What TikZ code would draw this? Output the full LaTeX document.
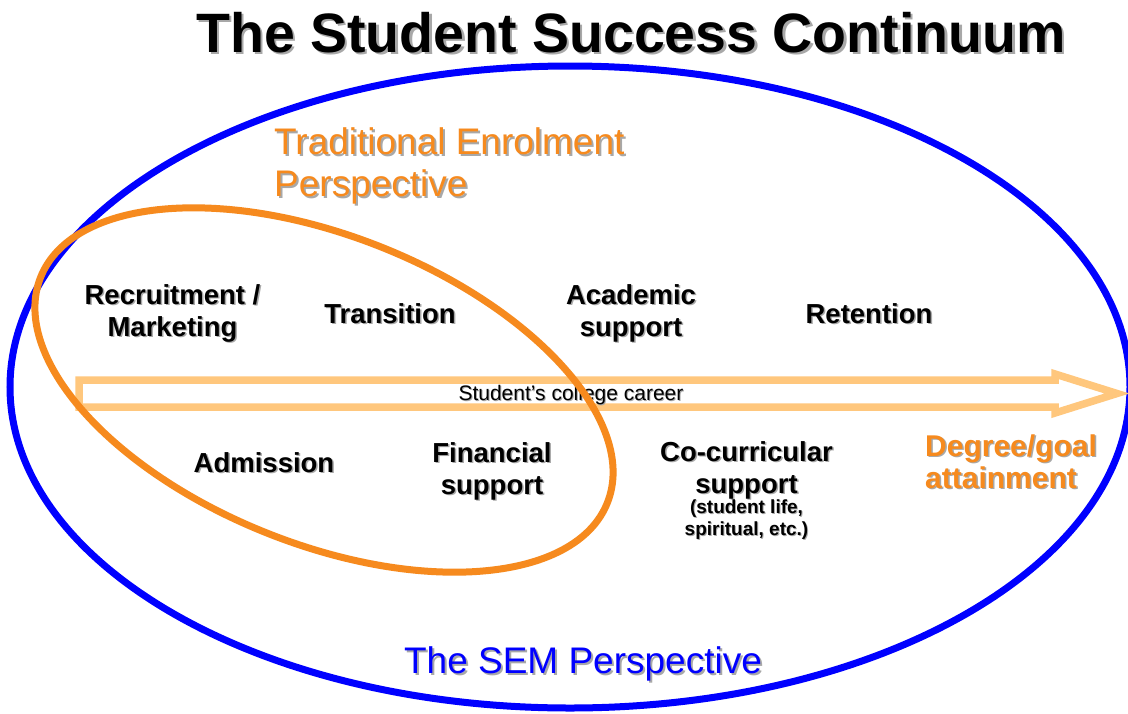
\documentclass[tikz,border=0pt]{standalone}
\usepackage{fontspec}
\setmainfont{Liberation Sans}
\definecolor{semblue}{HTML}{0000FF}
\definecolor{tradorange}{HTML}{F68A1E}
\definecolor{arrowc}{HTML}{FFC77D}
\definecolor{shgray}{HTML}{A8A8A8}
\newcommand\shd[2][1.5pt]{\leavevmode\rlap{\kern#1\raisebox{-#1}{\color{shgray}#2}}#2}
\newcommand\ctab[1]{\begin{tabular}{@{}c@{}}#1\end{tabular}}
\newcommand\ltab[1]{\begin{tabular}{@{}l@{}}#1\end{tabular}}
\tikzset{
  lbl/.style={inner sep=0pt, text=black, font=\bfseries\fontsize{27.5}{32}\selectfont},
  small/.style={inner sep=0pt, text=black, font=\bfseries\fontsize{19}{22}\selectfont},
  orangelbl/.style={inner sep=0pt, text=tradorange, font=\bfseries\fontsize{30}{32}\selectfont},
  persp/.style={inner sep=0pt, font=\fontsize{37}{42}\selectfont},
}
\begin{document}
\begin{tikzpicture}[x=1pt,y=-1pt]
\path[use as bounding box] (0,0) rectangle (1128,713);
\clip (0,0) rectangle (1128,713);
\fill[white] (0,0) rectangle (1128,713);
% blue SEM ellipse
\draw[semblue, line width=7pt] (570,387) ellipse [x radius=560, y radius=321];
% hollow arrow
\draw[arrowc, line width=7.5pt, line join=miter]
  (79,380) -- (1055,380) -- (1055,374) -- (1117,393.5) -- (1055,413) -- (1055,407) -- (79,407) -- cycle;
\node[inner sep=0pt, font=\fontsize{21}{24}\selectfont, anchor=base] (career) at (571,400) {\shd[1pt]{Student’s college career}};
% orange traditional ellipse
\draw[tradorange, line width=7pt, rotate around={-21.7:(324,390)}] (324,390) ellipse [x radius=305, y radius=154];
% title
\node[inner sep=0pt, font=\bfseries\fontsize{55.5}{60}\selectfont, anchor=base] (title) at (631,52) {\shd[2.5pt]{The Student Success Continuum}};
% perspectives
\node[persp, text=tradorange, anchor=west] (trad) at (274,167.6) {\shd[2pt]{\ltab{Traditional Enrolment\\Perspective}}};
\node[persp, text=semblue, anchor=base] (sem) at (583,673) {\shd[2pt]{The SEM Perspective}};
% labels
\node[lbl] (recruit) at (172.5,314.6) {\shd{\ctab{Recruitment /\\Marketing}}};
\node[lbl, anchor=base] (transition) at (390,323) {\shd{Transition}};
\node[lbl] (academic) at (631,314.6) {\shd{\ctab{Academic\\support}}};
\node[lbl, anchor=base] (retention) at (869,323) {\shd{Retention}};
\node[lbl, anchor=base] (admission) at (264,472) {\shd{Admission}};
\node[lbl] (financial) at (492,472.6) {\shd{\ctab{Financial\\support}}};
\node[lbl] (cocurr) at (746.5,471.6) {\shd{\ctab{Co-curricular\\support}}};
\node[small] (cocurrnote) at (746.5,521) {\shd[1pt]{\ctab{(student life,\\spiritual, etc.)}}};
\node[orangelbl, anchor=west] (degree) at (925,466.6) {\shd{\ltab{Degree/goal\\attainment}}};
\end{tikzpicture}
\end{document}
